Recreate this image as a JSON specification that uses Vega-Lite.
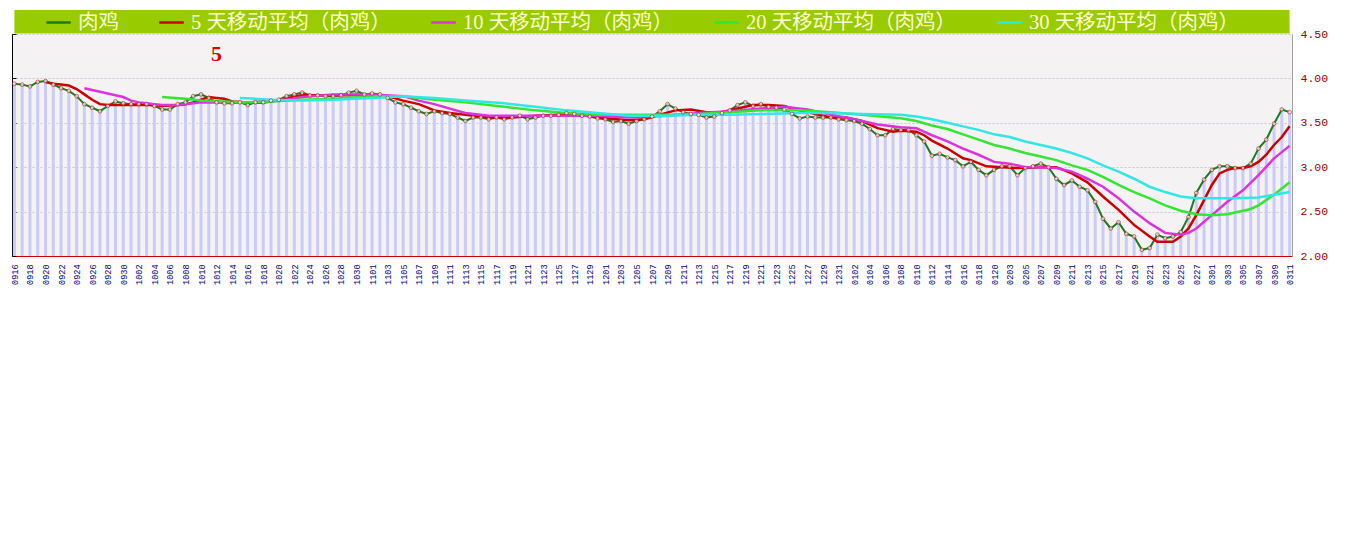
{
  "$schema": "https://vega.github.io/schema/vega-lite/v6.json",
  "width": 1280,
  "height": 222,
  "autosize": {"type": "pad"},
  "padding": {"left": 10, "top": 9, "right": 10, "bottom": 4},
  "background": "white",
  "config": {
    "view": {"fill": "#f4f2f2", "stroke": null},
    "axisX": {"labelAngle": -90, "labelAlign": "right", "labelBaseline": "middle"}
  },
  "datasets": {
    "main": [
      {"date":"0916","price":3.94},{"date":"0917","price":3.93},{"date":"0918","price":3.91},{"date":"0919","price":3.96},{"date":"0920","price":3.97},
      {"date":"0921","price":3.93},{"date":"0922","price":3.89},{"date":"0923","price":3.86},{"date":"0924","price":3.80},{"date":"0925","price":3.71},
      {"date":"0926","price":3.67},{"date":"0927","price":3.63},{"date":"0928","price":3.69},{"date":"0929","price":3.74},{"date":"0930","price":3.72},
      {"date":"1001","price":3.71},{"date":"1002","price":3.71},{"date":"1003","price":3.71},{"date":"1004","price":3.69},{"date":"1005","price":3.65},
      {"date":"1006","price":3.65},{"date":"1007","price":3.71},{"date":"1008","price":3.73},{"date":"1009","price":3.80},{"date":"1010","price":3.82},
      {"date":"1011","price":3.78},{"date":"1012","price":3.73},{"date":"1013","price":3.72},{"date":"1014","price":3.72},{"date":"1015","price":3.73},
      {"date":"1016","price":3.70},{"date":"1017","price":3.73},{"date":"1018","price":3.73},{"date":"1019","price":3.75},{"date":"1020","price":3.76},
      {"date":"1021","price":3.80},{"date":"1022","price":3.82},{"date":"1023","price":3.84},{"date":"1024","price":3.81},{"date":"1025","price":3.81},
      {"date":"1026","price":3.80},{"date":"1027","price":3.80},{"date":"1028","price":3.81},{"date":"1029","price":3.84},{"date":"1030","price":3.86},
      {"date":"1031","price":3.82},{"date":"1101","price":3.83},{"date":"1102","price":3.82},{"date":"1103","price":3.78},{"date":"1104","price":3.73},
      {"date":"1105","price":3.71},{"date":"1106","price":3.67},{"date":"1107","price":3.63},{"date":"1108","price":3.60},{"date":"1109","price":3.63},
      {"date":"1110","price":3.61},{"date":"1111","price":3.60},{"date":"1112","price":3.56},{"date":"1113","price":3.52},{"date":"1114","price":3.56},
      {"date":"1115","price":3.56},{"date":"1116","price":3.54},{"date":"1117","price":3.56},{"date":"1118","price":3.54},{"date":"1119","price":3.56},
      {"date":"1120","price":3.58},{"date":"1121","price":3.54},{"date":"1122","price":3.56},{"date":"1123","price":3.58},{"date":"1124","price":3.58},
      {"date":"1125","price":3.59},{"date":"1126","price":3.61},{"date":"1127","price":3.60},{"date":"1128","price":3.58},{"date":"1129","price":3.57},
      {"date":"1130","price":3.55},{"date":"1201","price":3.54},{"date":"1202","price":3.51},{"date":"1203","price":3.52},{"date":"1204","price":3.49},
      {"date":"1205","price":3.52},{"date":"1206","price":3.54},{"date":"1207","price":3.57},{"date":"1208","price":3.63},{"date":"1209","price":3.71},
      {"date":"1210","price":3.66},{"date":"1211","price":3.62},{"date":"1212","price":3.60},{"date":"1213","price":3.59},{"date":"1214","price":3.56},
      {"date":"1215","price":3.57},{"date":"1216","price":3.61},{"date":"1217","price":3.64},{"date":"1218","price":3.70},{"date":"1219","price":3.73},
      {"date":"1220","price":3.69},{"date":"1221","price":3.71},{"date":"1222","price":3.68},{"date":"1223","price":3.67},{"date":"1224","price":3.65},
      {"date":"1225","price":3.60},{"date":"1226","price":3.55},{"date":"1227","price":3.57},{"date":"1228","price":3.56},{"date":"1229","price":3.56},
      {"date":"1230","price":3.56},{"date":"1231","price":3.54},{"date":"0101","price":3.53},{"date":"0102","price":3.52},{"date":"0103","price":3.49},
      {"date":"0104","price":3.43},{"date":"0105","price":3.36},{"date":"0106","price":3.36},{"date":"0107","price":3.43},{"date":"0108","price":3.42},
      {"date":"0109","price":3.42},{"date":"0110","price":3.36},{"date":"0111","price":3.29},{"date":"0112","price":3.13},{"date":"0113","price":3.15},
      {"date":"0114","price":3.11},{"date":"0115","price":3.08},{"date":"0116","price":3.01},{"date":"0117","price":3.06},{"date":"0118","price":2.97},
      {"date":"0119","price":2.91},{"date":"0120","price":2.97},{"date":"0121","price":3.01},{"date":"0203","price":3.01},{"date":"0204","price":2.91},
      {"date":"0205","price":2.99},{"date":"0206","price":3.01},{"date":"0207","price":3.04},{"date":"0208","price":3.00},{"date":"0209","price":2.87},
      {"date":"0210","price":2.80},{"date":"0211","price":2.85},{"date":"0212","price":2.78},{"date":"0213","price":2.74},{"date":"0214","price":2.61},
      {"date":"0215","price":2.42},{"date":"0216","price":2.31},{"date":"0217","price":2.38},{"date":"0218","price":2.25},{"date":"0219","price":2.22},
      {"date":"0220","price":2.07},{"date":"0221","price":2.09},{"date":"0222","price":2.24},{"date":"0223","price":2.20},{"date":"0224","price":2.22},
      {"date":"0225","price":2.27},{"date":"0226","price":2.44},{"date":"0227","price":2.71},{"date":"0228","price":2.86},{"date":"0301","price":2.97},
      {"date":"0302","price":3.01},{"date":"0303","price":3.01},{"date":"0304","price":2.99},{"date":"0305","price":2.99},{"date":"0306","price":3.04},
      {"date":"0307","price":3.21},{"date":"0308","price":3.31},{"date":"0309","price":3.49},{"date":"0310","price":3.65},{"date":"0311","price":3.62}
    ],
    "ma5": [
      {"date":"0920","value":3.96},{"date":"0921","value":3.94},{"date":"0922","value":3.93},{"date":"0923","value":3.92},{"date":"0924","value":3.88},
      {"date":"0925","value":3.82},{"date":"0926","value":3.76},{"date":"0927","value":3.71},{"date":"0928","value":3.70},{"date":"0930","value":3.70},
      {"date":"1002","value":3.70},{"date":"1004","value":3.70},{"date":"1005","value":3.69},{"date":"1007","value":3.70},{"date":"1008","value":3.71},
      {"date":"1009","value":3.73},{"date":"1010","value":3.76},{"date":"1011","value":3.79},{"date":"1012","value":3.78},{"date":"1013","value":3.77},
      {"date":"1014","value":3.74},{"date":"1016","value":3.73},{"date":"1018","value":3.73},{"date":"1020","value":3.75},{"date":"1021","value":3.77},
      {"date":"1022","value":3.80},{"date":"1023","value":3.81},{"date":"1026","value":3.81},{"date":"1029","value":3.81},{"date":"1101","value":3.82},
      {"date":"1103","value":3.80},{"date":"1105","value":3.75},{"date":"1107","value":3.71},{"date":"1109","value":3.64},{"date":"1111","value":3.61},
      {"date":"1113","value":3.59},{"date":"1116","value":3.56},{"date":"1119","value":3.56},{"date":"1122","value":3.58},{"date":"1125","value":3.59},
      {"date":"1128","value":3.59},{"date":"1130","value":3.56},{"date":"1204","value":3.53},{"date":"1206","value":3.54},{"date":"1208","value":3.59},
      {"date":"1210","value":3.64},{"date":"1212","value":3.65},{"date":"1214","value":3.62},{"date":"1216","value":3.62},{"date":"1218","value":3.66},
      {"date":"1220","value":3.70},{"date":"1222","value":3.70},{"date":"1224","value":3.69},{"date":"1226","value":3.64},{"date":"1228","value":3.60},
      {"date":"1230","value":3.56},{"date":"0101","value":3.56},{"date":"0103","value":3.52},{"date":"0105","value":3.44},{"date":"0107","value":3.40},
      {"date":"0108","value":3.41},{"date":"0110","value":3.40},{"date":"0111","value":3.36},{"date":"0112","value":3.30},{"date":"0114","value":3.21},
      {"date":"0116","value":3.10},{"date":"0117","value":3.08},{"date":"0119","value":3.01},{"date":"0121","value":3.00},{"date":"0204","value":2.99},
      {"date":"0207","value":3.00},{"date":"0209","value":3.00},{"date":"0211","value":2.93},{"date":"0213","value":2.83},{"date":"0215","value":2.67},
      {"date":"0217","value":2.52},{"date":"0219","value":2.35},{"date":"0221","value":2.22},{"date":"0222","value":2.16},{"date":"0223","value":2.16},
      {"date":"0224","value":2.16},{"date":"0225","value":2.22},{"date":"0226","value":2.31},{"date":"0227","value":2.46},{"date":"0228","value":2.63},
      {"date":"0301","value":2.80},{"date":"0302","value":2.93},{"date":"0303","value":2.97},{"date":"0304","value":2.99},{"date":"0305","value":2.99},
      {"date":"0306","value":3.01},{"date":"0307","value":3.06},{"date":"0308","value":3.14},{"date":"0309","value":3.25},{"date":"0310","value":3.34},
      {"date":"0311","value":3.46}
    ],
    "ma10": [
      {"date":"0925","value":3.89},{"date":"0926","value":3.87},{"date":"0927","value":3.85},{"date":"0928","value":3.83},{"date":"0929","value":3.81},
      {"date":"0930","value":3.79},{"date":"1001","value":3.75},{"date":"1002","value":3.73},{"date":"1003","value":3.72},{"date":"1004","value":3.71},
      {"date":"1005","value":3.70},{"date":"1007","value":3.70},{"date":"1009","value":3.72},{"date":"1010","value":3.73},{"date":"1013","value":3.73},
      {"date":"1016","value":3.73},{"date":"1021","value":3.76},{"date":"1023","value":3.79},{"date":"1027","value":3.82},{"date":"1101","value":3.82},
      {"date":"1105","value":3.80},{"date":"1107","value":3.75},{"date":"1109","value":3.71},{"date":"1111","value":3.66},{"date":"1113","value":3.61},
      {"date":"1116","value":3.58},{"date":"1120","value":3.58},{"date":"1124","value":3.58},{"date":"1130","value":3.58},{"date":"1204","value":3.56},
      {"date":"1209","value":3.58},{"date":"1213","value":3.61},{"date":"1217","value":3.63},{"date":"1221","value":3.66},{"date":"1224","value":3.68},
      {"date":"1227","value":3.65},{"date":"1230","value":3.59},{"date":"0102","value":3.54},{"date":"0105","value":3.48},{"date":"0108","value":3.45},
      {"date":"0110","value":3.44},{"date":"0112","value":3.36},{"date":"0114","value":3.29},{"date":"0116","value":3.21},{"date":"0118","value":3.14},
      {"date":"0120","value":3.06},{"date":"0203","value":3.04},{"date":"0205","value":3.00},{"date":"0207","value":3.00},{"date":"0209","value":2.99},
      {"date":"0211","value":2.95},{"date":"0213","value":2.87},{"date":"0215","value":2.78},{"date":"0217","value":2.65},{"date":"0219","value":2.50},
      {"date":"0221","value":2.37},{"date":"0223","value":2.26},{"date":"0225","value":2.24},{"date":"0226","value":2.26},{"date":"0227","value":2.31},
      {"date":"0301","value":2.46},{"date":"0303","value":2.61},{"date":"0305","value":2.74},{"date":"0307","value":2.91},{"date":"0309","value":3.10},
      {"date":"0311","value":3.24}
    ],
    "ma20": [
      {"date":"1005","value":3.79},{"date":"1008","value":3.77},{"date":"1010","value":3.75},{"date":"1013","value":3.74},{"date":"1016","value":3.73},
      {"date":"1019","value":3.74},{"date":"1023","value":3.76},{"date":"1027","value":3.77},{"date":"1101","value":3.80},{"date":"1105","value":3.80},
      {"date":"1109","value":3.76},{"date":"1113","value":3.73},{"date":"1118","value":3.68},{"date":"1122","value":3.64},{"date":"1126","value":3.61},
      {"date":"1130","value":3.59},{"date":"1204","value":3.59},{"date":"1209","value":3.59},{"date":"1213","value":3.60},{"date":"1217","value":3.62},
      {"date":"1221","value":3.64},{"date":"1226","value":3.64},{"date":"1230","value":3.62},{"date":"0103","value":3.59},{"date":"0108","value":3.55},
      {"date":"0110","value":3.52},{"date":"0112","value":3.47},{"date":"0114","value":3.43},{"date":"0116","value":3.37},{"date":"0118","value":3.31},
      {"date":"0120","value":3.25},{"date":"0203","value":3.21},{"date":"0205","value":3.16},{"date":"0207","value":3.12},{"date":"0209","value":3.08},
      {"date":"0211","value":3.02},{"date":"0213","value":2.97},{"date":"0215","value":2.89},{"date":"0217","value":2.80},{"date":"0219","value":2.72},
      {"date":"0221","value":2.65},{"date":"0223","value":2.57},{"date":"0225","value":2.51},{"date":"0227","value":2.47},{"date":"0301","value":2.46},
      {"date":"0303","value":2.47},{"date":"0306","value":2.53},{"date":"0307","value":2.57},{"date":"0309","value":2.69},{"date":"0311","value":2.83}
    ],
    "ma30": [
      {"date":"1015","value":3.78},{"date":"1019","value":3.76},{"date":"1023","value":3.75},{"date":"1027","value":3.76},{"date":"1101","value":3.78},
      {"date":"1105","value":3.80},{"date":"1109","value":3.78},{"date":"1113","value":3.75},{"date":"1118","value":3.72},{"date":"1122","value":3.68},
      {"date":"1126","value":3.64},{"date":"1130","value":3.61},{"date":"1204","value":3.58},{"date":"1209","value":3.58},{"date":"1213","value":3.59},
      {"date":"1217","value":3.59},{"date":"1221","value":3.60},{"date":"1226","value":3.61},{"date":"1230","value":3.61},{"date":"0103","value":3.60},
      {"date":"0108","value":3.59},{"date":"0110","value":3.57},{"date":"0112","value":3.54},{"date":"0114","value":3.50},{"date":"0116","value":3.46},
      {"date":"0118","value":3.42},{"date":"0120","value":3.37},{"date":"0203","value":3.34},{"date":"0205","value":3.29},{"date":"0207","value":3.25},
      {"date":"0209","value":3.21},{"date":"0211","value":3.16},{"date":"0213","value":3.10},{"date":"0215","value":3.02},{"date":"0217","value":2.95},
      {"date":"0219","value":2.87},{"date":"0221","value":2.78},{"date":"0223","value":2.72},{"date":"0225","value":2.67},{"date":"0227","value":2.65},
      {"date":"0301","value":2.65},{"date":"0304","value":2.65},{"date":"0307","value":2.66},{"date":"0309","value":2.69},{"date":"0311","value":2.72}
    ]
  },
  "resolve": {"axis": {"y": "independent"}},
  "layer": [
    {
      "data": {"name": "main"},
      "mark": {"type": "rule", "color": "#cbcbf7", "strokeWidth": 3},
      "encoding": {
        "x": {
          "field": "date", "type": "ordinal",
          "scale": {"type": "point", "padding": 0.31, "domain": [
            "0916","0917","0918","0919","0920","0921","0922","0923","0924","0925","0926","0927","0928","0929","0930",
            "1001","1002","1003","1004","1005","1006","1007","1008","1009","1010","1011","1012","1013","1014","1015","1016","1017","1018","1019","1020","1021","1022","1023","1024","1025","1026","1027","1028","1029","1030","1031",
            "1101","1102","1103","1104","1105","1106","1107","1108","1109","1110","1111","1112","1113","1114","1115","1116","1117","1118","1119","1120","1121","1122","1123","1124","1125","1126","1127","1128","1129","1130",
            "1201","1202","1203","1204","1205","1206","1207","1208","1209","1210","1211","1212","1213","1214","1215","1216","1217","1218","1219","1220","1221","1222","1223","1224","1225","1226","1227","1228","1229","1230","1231",
            "0101","0102","0103","0104","0105","0106","0107","0108","0109","0110","0111","0112","0113","0114","0115","0116","0117","0118","0119","0120","0121",
            "0203","0204","0205","0206","0207","0208","0209","0210","0211","0212","0213","0214","0215","0216","0217","0218","0219","0220","0221","0222","0223","0224","0225","0226","0227","0228",
            "0301","0302","0303","0304","0305","0306","0307","0308","0309","0310","0311"
          ]},
          "axis": {"title": null, "grid": false, "domainColor": "#cc0000", "tickColor": "#cc0000", "tickSize": -4, "labelAngle": -90, "labelAlign": "right", "labelBaseline": "middle", "labelColor": "#000080", "labelFont": "Liberation Mono", "labelFontSize": 8.5, "labelPadding": 12, "labelOverlap": false, "labelBound": false, "labelExpr": "indexof(['09','10','01'], slice(datum.label,0,2)) >= 0 ? (toNumber(slice(datum.label,2,4)) % 2 == 0 ? datum.label : '') : (toNumber(slice(datum.label,2,4)) % 2 == 1 ? datum.label : '')"}
        },
        "y": {
          "field": "price", "type": "quantitative",
          "scale": {"domain": [2, 4.5], "nice": false, "zero": false},
          "axis": {
            "orient": "left", "title": null, "labels": false,
            "values": [2, 2.5, 3, 3.5, 4, 4.5],
            "tickSize": -4, "tickColor": "#000000", "domainColor": "#000000",
            "grid": true, "gridColor": "#c6c6dc", "gridDash": [2, 2]
          }
        },
        "y2": {"datum": 2}
      }
    },
    {
      "data": {"values": [{}]},
      "mark": {"type": "rect", "fill": "#99cc00"},
      "encoding": {
        "x": {"datum": "0916", "type": "ordinal", "axis": {"title": null, "grid": false, "domainColor": "#cc0000", "tickColor": "#cc0000", "tickSize": -4, "labelAngle": -90, "labelAlign": "right", "labelBaseline": "middle", "labelColor": "#000080", "labelFont": "Liberation Mono", "labelFontSize": 8.5, "labelPadding": 12, "labelOverlap": false, "labelBound": false, "labelExpr": "indexof(['09','10','01'], slice(datum.label,0,2)) >= 0 ? (toNumber(slice(datum.label,2,4)) % 2 == 0 ? datum.label : '') : (toNumber(slice(datum.label,2,4)) % 2 == 1 ? datum.label : '')"}},
        "x2": {"datum": "0311"},
        "y": {"datum": 4.77, "type": "quantitative", "axis": null},
        "y2": {"datum": 4.505}
      }
    },
    {
      "data": {"name": "main"},
      "mark": {"type": "line", "strokeWidth": 2},
      "encoding": {
        "x": {"field": "date", "type": "ordinal", "axis": {"title": null, "grid": false, "domainColor": "#cc0000", "tickColor": "#cc0000", "tickSize": -4, "labelAngle": -90, "labelAlign": "right", "labelBaseline": "middle", "labelColor": "#000080", "labelFont": "Liberation Mono", "labelFontSize": 8.5, "labelPadding": 12, "labelOverlap": false, "labelBound": false, "labelExpr": "indexof(['09','10','01'], slice(datum.label,0,2)) >= 0 ? (toNumber(slice(datum.label,2,4)) % 2 == 0 ? datum.label : '') : (toNumber(slice(datum.label,2,4)) % 2 == 1 ? datum.label : '')"}},
        "y": {
          "field": "price", "type": "quantitative",
          "axis": {
            "orient": "right", "title": null, "grid": false, "ticks": false,
            "values": [2, 2.5, 3, 3.5, 4, 4.5], "format": ".2f",
            "labelColor": "#a00000", "labelFont": "Liberation Mono", "labelFontSize": 11.5,
            "labelPadding": 8, "domainColor": "#a0a0a0"
          }
        },
        "color": {
          "datum": "肉鸡",
          "scale": {
            "domain": ["肉鸡", "5 天移动平均（肉鸡）", "10 天移动平均（肉鸡）", "20 天移动平均（肉鸡）", "30 天移动平均（肉鸡）"],
            "range": ["#1f7a1f", "#cc0000", "#dd33dd", "#33e633", "#33e6e6"]
          },
          "legend": {
            "orient": "none", "legendX": 33, "legendY": -25, "direction": "horizontal", "columns": 5,
            "title": null, "padding": 0, "symbolType": "stroke", "symbolStrokeWidth": 2.5, "symbolSize": 600,
            "labelFont": "Liberation Serif, Noto Sans CJK SC", "labelFontSize": 20.5, "labelColor": "#ffffcc",
            "labelLimit": 400, "columnPadding": 35, "labelOffset": 6
          }
        }
      }
    },
    {
      "data": {"name": "ma5"},
      "mark": {"type": "line", "strokeWidth": 2.5},
      "encoding": {
        "x": {"field": "date", "type": "ordinal", "axis": {"title": null, "grid": false, "domainColor": "#cc0000", "tickColor": "#cc0000", "tickSize": -4, "labelAngle": -90, "labelAlign": "right", "labelBaseline": "middle", "labelColor": "#000080", "labelFont": "Liberation Mono", "labelFontSize": 8.5, "labelPadding": 12, "labelOverlap": false, "labelBound": false, "labelExpr": "indexof(['09','10','01'], slice(datum.label,0,2)) >= 0 ? (toNumber(slice(datum.label,2,4)) % 2 == 0 ? datum.label : '') : (toNumber(slice(datum.label,2,4)) % 2 == 1 ? datum.label : '')"}},
        "y": {"field": "value", "type": "quantitative", "axis": null},
        "color": {"datum": "5 天移动平均（肉鸡）", "legend": null}
      }
    },
    {
      "data": {"name": "ma10"},
      "mark": {"type": "line", "strokeWidth": 2.5},
      "encoding": {
        "x": {"field": "date", "type": "ordinal", "axis": {"title": null, "grid": false, "domainColor": "#cc0000", "tickColor": "#cc0000", "tickSize": -4, "labelAngle": -90, "labelAlign": "right", "labelBaseline": "middle", "labelColor": "#000080", "labelFont": "Liberation Mono", "labelFontSize": 8.5, "labelPadding": 12, "labelOverlap": false, "labelBound": false, "labelExpr": "indexof(['09','10','01'], slice(datum.label,0,2)) >= 0 ? (toNumber(slice(datum.label,2,4)) % 2 == 0 ? datum.label : '') : (toNumber(slice(datum.label,2,4)) % 2 == 1 ? datum.label : '')"}},
        "y": {"field": "value", "type": "quantitative", "axis": null},
        "color": {"datum": "10 天移动平均（肉鸡）", "legend": null}
      }
    },
    {
      "data": {"name": "ma20"},
      "mark": {"type": "line", "strokeWidth": 2.5},
      "encoding": {
        "x": {"field": "date", "type": "ordinal", "axis": {"title": null, "grid": false, "domainColor": "#cc0000", "tickColor": "#cc0000", "tickSize": -4, "labelAngle": -90, "labelAlign": "right", "labelBaseline": "middle", "labelColor": "#000080", "labelFont": "Liberation Mono", "labelFontSize": 8.5, "labelPadding": 12, "labelOverlap": false, "labelBound": false, "labelExpr": "indexof(['09','10','01'], slice(datum.label,0,2)) >= 0 ? (toNumber(slice(datum.label,2,4)) % 2 == 0 ? datum.label : '') : (toNumber(slice(datum.label,2,4)) % 2 == 1 ? datum.label : '')"}},
        "y": {"field": "value", "type": "quantitative", "axis": null},
        "color": {"datum": "20 天移动平均（肉鸡）", "legend": null}
      }
    },
    {
      "data": {"name": "ma30"},
      "mark": {"type": "line", "strokeWidth": 2.5},
      "encoding": {
        "x": {"field": "date", "type": "ordinal", "axis": {"title": null, "grid": false, "domainColor": "#cc0000", "tickColor": "#cc0000", "tickSize": -4, "labelAngle": -90, "labelAlign": "right", "labelBaseline": "middle", "labelColor": "#000080", "labelFont": "Liberation Mono", "labelFontSize": 8.5, "labelPadding": 12, "labelOverlap": false, "labelBound": false, "labelExpr": "indexof(['09','10','01'], slice(datum.label,0,2)) >= 0 ? (toNumber(slice(datum.label,2,4)) % 2 == 0 ? datum.label : '') : (toNumber(slice(datum.label,2,4)) % 2 == 1 ? datum.label : '')"}},
        "y": {"field": "value", "type": "quantitative", "axis": null},
        "color": {"datum": "30 天移动平均（肉鸡）", "legend": null}
      }
    },
    {
      "data": {"name": "main"},
      "mark": {"type": "point", "shape": "circle", "size": 14, "filled": true, "fill": "#ffffff", "stroke": "#b03030", "strokeWidth": 1},
      "encoding": {
        "x": {"field": "date", "type": "ordinal", "axis": {"title": null, "grid": false, "domainColor": "#cc0000", "tickColor": "#cc0000", "tickSize": -4, "labelAngle": -90, "labelAlign": "right", "labelBaseline": "middle", "labelColor": "#000080", "labelFont": "Liberation Mono", "labelFontSize": 8.5, "labelPadding": 12, "labelOverlap": false, "labelBound": false, "labelExpr": "indexof(['09','10','01'], slice(datum.label,0,2)) >= 0 ? (toNumber(slice(datum.label,2,4)) % 2 == 0 ? datum.label : '') : (toNumber(slice(datum.label,2,4)) % 2 == 1 ? datum.label : '')"}},
        "y": {"field": "price", "type": "quantitative", "axis": null}
      }
    },
    {
      "data": {"values": [{"note": "5"}]},
      "mark": {"type": "text", "font": "Liberation Serif", "fontSize": 22, "fontWeight": "bold", "color": "#e00000", "align": "center", "baseline": "middle"},
      "encoding": {
        "x": {"datum": "1012", "type": "ordinal", "axis": {"title": null, "grid": false, "domainColor": "#cc0000", "tickColor": "#cc0000", "tickSize": -4, "labelAngle": -90, "labelAlign": "right", "labelBaseline": "middle", "labelColor": "#000080", "labelFont": "Liberation Mono", "labelFontSize": 8.5, "labelPadding": 12, "labelOverlap": false, "labelBound": false, "labelExpr": "indexof(['09','10','01'], slice(datum.label,0,2)) >= 0 ? (toNumber(slice(datum.label,2,4)) % 2 == 0 ? datum.label : '') : (toNumber(slice(datum.label,2,4)) % 2 == 1 ? datum.label : '')"}},
        "y": {"datum": 4.27, "type": "quantitative", "axis": null},
        "text": {"field": "note"}
      }
    }
  ]
}
